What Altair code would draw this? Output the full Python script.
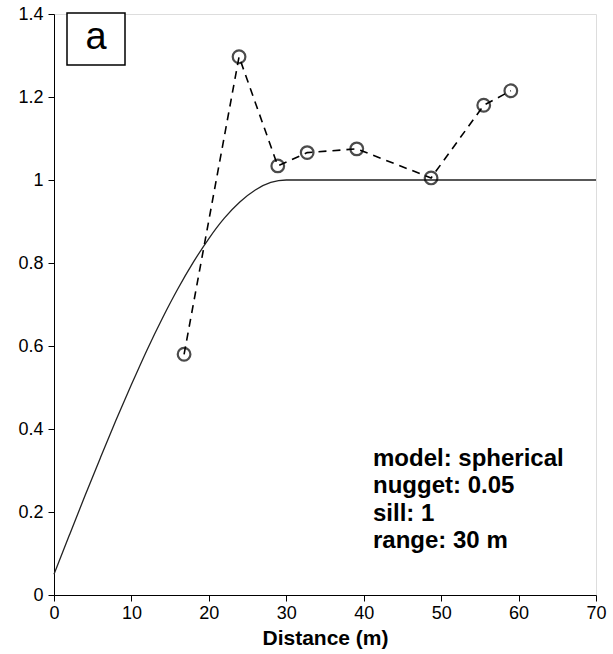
import altair as alt
import pandas as pd

lag = [16.8, 23.9, 28.9, 32.7, 39.1, 48.7, 55.5, 59.0]
semivar = [0.58, 1.297, 1.034, 1.066, 1.075, 1.005, 1.18, 1.215]

# Fitted model curve
model_x = [0, 2, 4, 6, 8, 10, 12, 14, 16, 18, 20, 22, 24, 26, 28, 30, 70]
model_y = [0.05, 0.145, 0.239, 0.331, 0.421, 0.507, 0.590, 0.667, 0.738,
           0.802, 0.859, 0.908, 0.947, 0.976, 0.994, 1.0, 1.0]

x_ticks = [0, 10, 20, 30, 40, 50, 60, 70]
y_ticks = [0, 0.2, 0.4, 0.6, 0.8, 1.0, 1.2, 1.4]

info_lines = ["model: spherical", "nugget: 0.05", "sill: 1", "range: 30 m"]
panel_label = "a"

pts = pd.DataFrame({"x": lag, "y": semivar})
mdl = pd.DataFrame({"x": model_x, "y": model_y})

FONT = "Liberation Sans"

xscale = alt.Scale(domain=[0, 70], nice=False, zero=False)
yscale = alt.Scale(domain=[0, 1.4], nice=False, zero=False)

xaxis = alt.Axis(values=x_ticks, title="Distance (m)", grid=False,
                 tickSize=6, tickColor="black", domainColor="black",
                 labelFont=FONT, labelFontSize=18, labelColor="black",
                 labelPadding=3, titleFont=FONT, titleFontSize=21,
                 titleFontWeight="bold", titleColor="black", titlePadding=5,
                 labelFlush=False)
yaxis = alt.Axis(values=y_ticks, title=None, grid=False, format="~g",
                 tickSize=6, tickColor="black", domainColor="black",
                 labelFont=FONT, labelFontSize=18, labelColor="black",
                 labelPadding=5)

curve = alt.Chart(mdl).mark_line(color="#222222", strokeWidth=1.3,
                                 interpolate="monotone").encode(
    x=alt.X("x:Q", scale=xscale, axis=xaxis),
    y=alt.Y("y:Q", scale=yscale, axis=yaxis),
)

dashed = alt.Chart(pts).mark_line(color="black", strokeWidth=1.6,
                                  strokeDash=[8, 6]).encode(
    x=alt.X("x:Q", scale=xscale),
    y=alt.Y("y:Q", scale=yscale),
)

circles = alt.Chart(pts).mark_point(shape="circle", filled=False,
                                    color="black", strokeWidth=2.2,
                                    size=160).encode(
    x=alt.X("x:Q", scale=xscale),
    y=alt.Y("y:Q", scale=yscale),
)

info = alt.Chart(pd.DataFrame({"t": [info_lines]})).mark_text(
    align="left", baseline="alphabetic", font=FONT, fontSize=24,
    fontWeight="bold", color="black", lineHeight=27.4,
).encode(x=alt.value(319), y=alt.value(452), text="t:N")

box = alt.Chart(pd.DataFrame({"a": [0]})).mark_rect(
    fill="white", stroke="black", strokeWidth=1.5
).encode(x=alt.value(13), x2=alt.value(71), y=alt.value(-1), y2=alt.value(51))

letter = alt.Chart(pd.DataFrame({"t": [panel_label]})).mark_text(
    align="center", baseline="alphabetic", font=FONT, fontSize=38,
    color="black"
).encode(x=alt.value(42), y=alt.value(35), text="t:N")

chart = alt.layer(curve, dashed, circles, info, box, letter).properties(
    width=542, height=581,
    padding={"left": 54, "top": 14, "right": 17, "bottom": 59},
    autosize=alt.AutoSizeParams(type="none"),
).configure_view(stroke=None).configure(background="white")

chart.save("out.html", embed_options={"renderer": "svg", "actions": False})
